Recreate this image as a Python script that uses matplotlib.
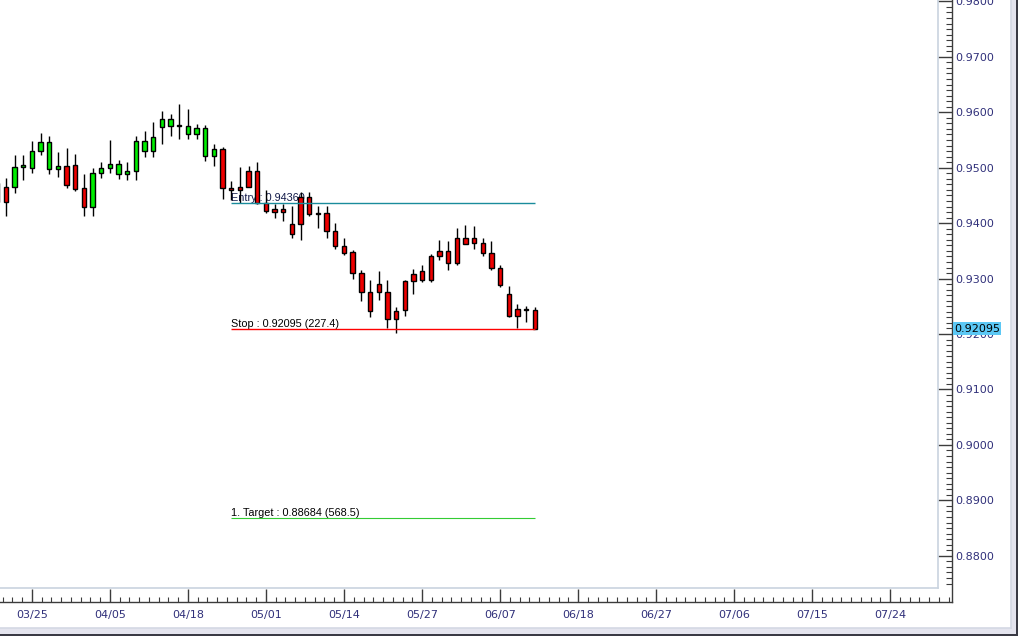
import numpy as np
import matplotlib
matplotlib.use('Agg')
import matplotlib.pyplot as plt
from matplotlib import ticker
from matplotlib.lines import Line2D
from matplotlib.patches import Rectangle

# %% data (bar index -1 is the partly hidden first candle)
opens = [0.9472, 0.9465, 0.9465, 0.9501, 0.9499, 0.9531, 0.9497, 0.9497, 0.9503, 0.9504,
         0.9463, 0.9429, 0.9490, 0.9499, 0.9488, 0.9488, 0.9494, 0.9531, 0.9531, 0.9573,
         0.9576, 0.9575, 0.9560, 0.9560, 0.9521, 0.9521, 0.9533, 0.9463, 0.9465, 0.9494,
         0.9494, 0.9437, 0.9425, 0.9425, 0.9398, 0.9448, 0.9447, 0.9418, 0.9418, 0.9385,
         0.9359, 0.9348, 0.9310, 0.9275, 0.9291, 0.9275, 0.9242, 0.9295, 0.9308, 0.9314,
         0.9340, 0.9349, 0.9349, 0.9373, 0.9374, 0.9374, 0.9364, 0.9347, 0.9320, 0.9273,
         0.9246, 0.9246, 0.9243]
highs = [0.9478, 0.9481, 0.9523, 0.9523, 0.9548, 0.9563, 0.9557, 0.9528, 0.9535, 0.9525,
         0.9489, 0.9499, 0.9510, 0.9550, 0.9514, 0.9510, 0.9557, 0.9566, 0.9582, 0.9602,
         0.9597, 0.9615, 0.9606, 0.9578, 0.9577, 0.9542, 0.9537, 0.9476, 0.9502, 0.9503,
         0.9510, 0.9460, 0.9435, 0.9435, 0.9431, 0.9456, 0.9456, 0.9431, 0.9431, 0.9400,
         0.9373, 0.9352, 0.9315, 0.9297, 0.9314, 0.9298, 0.9249, 0.9297, 0.9317, 0.9324,
         0.9344, 0.9370, 0.9367, 0.9391, 0.9397, 0.9395, 0.9374, 0.9368, 0.9324, 0.9286,
         0.9254, 0.9251, 0.9248]
lows = [0.9433, 0.9413, 0.9455, 0.9478, 0.9491, 0.9523, 0.9489, 0.9484, 0.9464, 0.9458,
        0.9413, 0.9413, 0.9482, 0.9491, 0.9480, 0.9477, 0.9478, 0.9520, 0.9519, 0.9542,
        0.9558, 0.9551, 0.9551, 0.9551, 0.9513, 0.9503, 0.9443, 0.9442, 0.9436, 0.9466,
        0.9435, 0.9418, 0.9410, 0.9404, 0.9374, 0.9369, 0.9413, 0.9392, 0.9374, 0.9353,
        0.9343, 0.9299, 0.9260, 0.9230, 0.9261, 0.9211, 0.9201, 0.9233, 0.9272, 0.9293,
        0.9294, 0.9334, 0.9316, 0.9324, 0.9362, 0.9353, 0.9340, 0.9316, 0.9284, 0.9230,
        0.9210, 0.9221, 0.92095]
closes = [0.9438, 0.9439, 0.9501, 0.9505, 0.9531, 0.9546, 0.9546, 0.9503, 0.9468, 0.9462,
          0.9429, 0.9490, 0.9499, 0.9506, 0.9506, 0.9494, 0.9548, 0.9548, 0.9555, 0.9587,
          0.9587, 0.9577, 0.9575, 0.9571, 0.9571, 0.9533, 0.9463, 0.9459, 0.9459, 0.9466,
          0.9436, 0.9422, 0.9421, 0.9420, 0.9380, 0.9398, 0.9416, 0.9416, 0.9385, 0.9359,
          0.9347, 0.9310, 0.9275, 0.9241, 0.9275, 0.9227, 0.9227, 0.9243, 0.9295, 0.9297,
          0.9297, 0.9340, 0.9329, 0.9329, 0.9362, 0.9364, 0.9347, 0.9320, 0.9288, 0.9232,
          0.9232, 0.9243, 0.92095]
candle_colors = (['r', 'r'] + ['g'] * 6 + ['r'] * 3 + ['g'] * 15 + ['r'] * 37)

tick_pos = [3, 12, 21, 30, 39, 48, 57, 66, 75, 84, 93, 102]
tick_labels = ['03/25', '04/05', '04/18', '05/01', '05/14', '05/27', '06/07',
               '06/18', '06/27', '07/06', '07/15', '07/24']

entry_price = 0.94360
stop_price = 0.92095
target_price = 0.88684
entry_label = 'Entry : 0.94360'
stop_label = 'Stop : 0.92095 (227.4)'
target_label = '1. Target : 0.88684 (568.5)'
last_label = '0.92095'

# %% figure
W, H = 1018, 636
fig = plt.figure(figsize=(W / 100, H / 100), dpi=100)
fig.patch.set_facecolor('white')
ax = fig.add_axes([0, 34 / H, 952 / W, 602 / H])

idx = np.arange(-1, len(opens) - 1)
o = np.array(opens)
c = np.array(closes)
col_map = {'g': '#00ee00', 'r': '#ee0000'}
face = [col_map[k] for k in candle_colors]

ax.vlines(idx, lows, highs, color='black', lw=1.0, zorder=2)
ax.bar(idx, np.abs(c - o), bottom=np.minimum(o, c), width=0.5, color=face,
       edgecolor='black', linewidth=1.0, zorder=3)

# trade levels
ax.hlines(entry_price, 26, 61, color='#1a8c9c', lw=1.0, zorder=4)
ax.hlines(stop_price, 26, 61, color='#ff0000', lw=1.0, zorder=4)
ax.hlines(target_price, 26, 61, color='#33cc33', lw=0.8, zorder=4)
for price, lab, tc in [(entry_price, entry_label, '#101848'),
                       (stop_price, stop_label, 'black'),
                       (target_price, target_label, 'black')]:
    ax.annotate(lab, xy=(26, price), xytext=(-0.3, 1.3), textcoords='offset points',
                ha='left', va='baseline', fontsize=7.8, family='Liberation Sans',
                color=tc, zorder=1.5)

ax.set_xlim(-0.69, 109.15)
ax.set_ylim(0.87167, 0.98025)

# axes styling
for s in ['top', 'left']:
    ax.spines[s].set_visible(False)
for s in ['right', 'bottom']:
    ax.spines[s].set_color('#3c3c3c')
    ax.spines[s].set_linewidth(1.0)

label_col = '#30307a'
ax.xaxis.set_major_locator(ticker.FixedLocator(tick_pos))
ax.xaxis.set_major_formatter(ticker.FixedFormatter(tick_labels))
ax.xaxis.set_minor_locator(ticker.MultipleLocator(1.125, offset=0.75))
ax.tick_params(axis='x', which='major', direction='in', length=9.4, width=1.0,
               color='#3c3c3c', labelsize=8, labelcolor=label_col, pad=5.8)
ax.tick_params(axis='x', which='minor', direction='in', length=3.6, width=0.8,
               color='#3c3c3c')

ax.yaxis.tick_right()
ax.yaxis.set_major_locator(ticker.FixedLocator(np.arange(0.88, 0.9801, 0.01)))
ax.yaxis.set_major_formatter(ticker.FormatStrFormatter('%.4f'))
ax.yaxis.set_minor_locator(ticker.FixedLocator(np.arange(0.875, 0.9805, 0.001)))
ax.tick_params(axis='y', which='major', direction='in', length=10, width=1.0,
               color='#3c3c3c', labelsize=8, labelcolor=label_col, pad=2)
ax.tick_params(axis='y', which='minor', direction='in', length=4.3, width=0.8,
               color='#3c3c3c')

# last price box
ax.annotate(last_label, xy=(1, stop_price), xycoords=('axes fraction', 'data'),
            xytext=(1.5, 0), textcoords='offset points', ha='left', va='center',
            fontsize=8, color='black', zorder=10, annotation_clip=False,
            bbox=dict(boxstyle='square,pad=0.12', fc='#5cc8f5', ec='none'))

# panel and window borders (figure pixels)
def fx(x):
    return x / W

def fy(y):
    return 1 - y / H

border = '#c9d3df'
fig.add_artist(Line2D([fx(937.5), fx(937.5)], [fy(0), fy(587.5)], color=border, lw=1.2))
fig.add_artist(Line2D([fx(0), fx(937.5)], [fy(587.5), fy(587.5)], color=border, lw=1.2))
fig.add_artist(Line2D([fx(1010.5), fx(1010.5)], [fy(0), fy(627.5)], color='#d4d8e4', lw=1.2))
fig.add_artist(Line2D([fx(0), fx(1010.5)], [fy(627.5), fy(627.5)], color='#d4d8e4', lw=1.2))
fig.add_artist(Rectangle((fx(0), fy(634)), 1, (634 - 628) / H, transform=fig.transFigure,
                         fc='#e4e4ee', ec='none'))
fig.add_artist(Rectangle((fx(1011), fy(634)), (1016 - 1011) / W, 634 / H,
                         transform=fig.transFigure, fc='#e4e4ee', ec='none'))
fig.add_artist(Rectangle((fx(0), 0), 1, 2 / H, transform=fig.transFigure,
                         fc='#3a3a44', ec='none'))
fig.add_artist(Rectangle((fx(1016), 0), 2 / W, 1, transform=fig.transFigure,
                         fc='#3a3a44', ec='none'))

plt.savefig('out.png', dpi=100)
